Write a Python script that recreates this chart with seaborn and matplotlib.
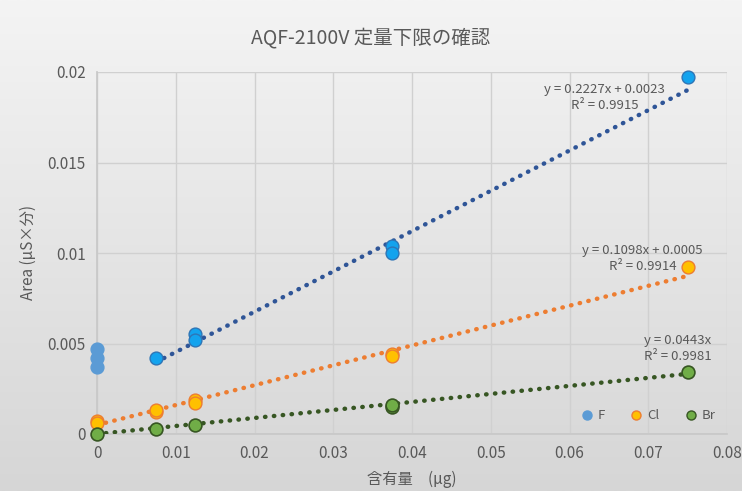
import numpy as np
import pandas as pd
import matplotlib
matplotlib.use("Agg")
import matplotlib.pyplot as plt
import seaborn as sns
from matplotlib.colors import LinearSegmentedColormap
from matplotlib.lines import Line2D

# ---- data ----
f_x0 = [0.0, 0.0, 0.0]
f_y0 = [0.0047, 0.0042, 0.0037]
f_x = [0.0075, 0.0125, 0.0125, 0.0375, 0.0375, 0.075]
f_y = [0.0042, 0.0055, 0.0052, 0.0104, 0.0100, 0.0197]
cl_x = [0.0, 0.0, 0.0075, 0.0075, 0.0125, 0.0125, 0.0375, 0.0375, 0.075]
cl_y = [0.0007, 0.0006, 0.0012, 0.0013, 0.0019, 0.0017, 0.0044, 0.0043, 0.0092]
br_x = [0.0, 0.0075, 0.0125, 0.0375, 0.0375, 0.075]
br_y = [0.0, 0.0003, 0.0005, 0.0015, 0.0016, 0.0034]

# trendline coefficients (slope, intercept) and ranges
f_fit = (0.2227, 0.0023, 0.0075, 0.075)
cl_fit = (0.1098, 0.0005, 0.0, 0.075)
br_fit = (0.0443, 0.0, 0.0, 0.075)
eq_texts = ["y = 0.2227x + 0.0023\nR² = 0.9915",
            "y = 0.1098x + 0.0005\nR² = 0.9914",
            "y = 0.0443x\nR² = 0.9981"]

xticks = [0, 0.01, 0.02, 0.03, 0.04, 0.05, 0.06, 0.07, 0.08]
xticklabels = ["0", "0.01", "0.02", "0.03", "0.04", "0.05", "0.06", "0.07", "0.08"]
yticks = [0, 0.005, 0.01, 0.015, 0.02]
yticklabels = ["0", "0.005", "0.01", "0.015", "0.02"]

sns.set_theme(style="white")
plt.rcParams['font.family'] = ['Noto Sans CJK JP', 'DejaVu Sans']
gray = "#595959"

fig = plt.figure(figsize=(7.42, 4.91), dpi=100)
# gradient background
bg = fig.add_axes([0, 0, 1, 1], zorder=-10)
grad = np.linspace(0, 1, 256).reshape(-1, 1)
cmap = LinearSegmentedColormap.from_list("bg", ["#f4f4f4", "#d6d6d6"])
bg.imshow(grad, aspect="auto", cmap=cmap, extent=[0, 1, 1, 0])
bg.axis("off")

ax = fig.add_axes([97/742, 1-434/491, 630/742, (434-72)/491])
ax.patch.set_alpha(0)

# trendlines
dot = dict(linestyle=(0, (0.1, 1.9)), dash_capstyle="round", linewidth=3.2)
for (m, b, x0, x1), col in zip([f_fit, cl_fit, br_fit], ["#2F5597", "#ED7D31", "#375623"]):
    xs = np.array([x0, x1])
    sns.lineplot(x=xs, y=m*xs+b, ax=ax, color=col, zorder=3, **dot)

# scatter points
ms = 85
sns.scatterplot(x=f_x0, y=f_y0, ax=ax, color="#5B9BD5", s=ms, edgecolor="#5B9BD5", linewidth=1, zorder=4, clip_on=False)
sns.scatterplot(x=f_x, y=f_y, ax=ax, color="#13A3EE", s=ms, edgecolor="#2E75B6", linewidth=1, zorder=4, clip_on=False)
sns.scatterplot(x=cl_x, y=cl_y, ax=ax, color="#FFC000", s=ms, edgecolor="#ED7D31", linewidth=1, zorder=4, clip_on=False)
sns.scatterplot(x=br_x, y=br_y, ax=ax, color="#70AD47", s=ms, edgecolor="#375623", linewidth=1.2, zorder=4, clip_on=False)

ax.set_xlim(0, 0.08)
ax.set_ylim(0, 0.02)
ax.set_xticks(xticks)
ax.set_xticklabels(xticklabels)
ax.set_yticks(yticks)
ax.set_yticklabels(yticklabels)
ax.tick_params(colors=gray, labelsize=11, length=0, pad=8)
ax.grid(True, color="#d0d0d0", linewidth=1)
for s in ["top", "right"]:
    ax.spines[s].set_visible(False)
ax.spines["left"].set_color("#c8c8c8")
ax.spines["bottom"].set_color("#c8c8c8")
ax.set_axisbelow(True)

ax.set_xlabel("含有量　(μg)", color=gray, fontsize=11, labelpad=6)
ax.set_ylabel("Area (μS×分)", color=gray, fontsize=11, labelpad=8)
fig.text(0.5, 1-38/491, "AQF-2100V 定量下限の確認", ha="center", va="center", color=gray, fontsize=14)

# equations
ax.text(0.0645, 0.0186, eq_texts[0], ha="center", va="center", fontsize=9.5, color=gray, linespacing=1.3)
ax.text(0.0693, 0.0097, eq_texts[1], ha="center", va="center", fontsize=9.5, color=gray, linespacing=1.3)
ax.text(0.0737, 0.0047, eq_texts[2], ha="center", va="center", fontsize=9.5, color=gray, linespacing=1.3)

# legend
handles = [Line2D([], [], marker="o", linestyle="", markersize=6.5, markerfacecolor="#5B9BD5", markeredgecolor="#5B9BD5"),
           Line2D([], [], marker="o", linestyle="", markersize=6.5, markerfacecolor="#FFC000", markeredgecolor="#ED7D31"),
           Line2D([], [], marker="o", linestyle="", markersize=6.5, markerfacecolor="#70AD47", markeredgecolor="#375623")]
leg = ax.legend(handles, ["F", "Cl", "Br"], loc="lower right", ncol=3, frameon=False,
                fontsize=9.5, handletextpad=-0.2, columnspacing=1.4, bbox_to_anchor=(1.0, 0.0))
for t in leg.get_texts():
    t.set_color(gray)

fig.savefig("out.png", dpi=100)
